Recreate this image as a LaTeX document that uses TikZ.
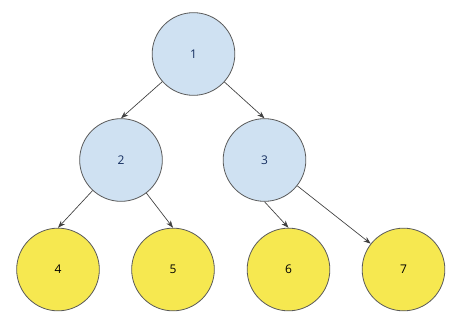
\documentclass[tikz,border=0pt]{standalone}
\usepackage{fontspec}
\setmainfont{Open Sans}
\usetikzlibrary{%
    arrows.meta,
    positioning,
    shapes.geometric
    }
\definecolor{treeblue}{RGB}{207,225,242}
\definecolor{treeyellow}{RGB}{246,232,80}
\definecolor{treegray}{RGB}{90,90,90}
\definecolor{treenavy}{RGB}{20,45,95}
\tikzset{
  inner3/.style={
    circle,
    minimum size=62pt,
    inner sep=0pt,
    draw=treegray,
    line width=0.6pt,
    font=\color{treenavy}\fontsize{9}{11}\selectfont,
    fill=treeblue,
  },
  leaf3/.style={
    circle,
    minimum size=62pt,
    inner sep=0pt,
    draw=treegray,
    line width=0.6pt,
    font=\color{black}\fontsize{9}{11}\selectfont,
    fill=treeyellow,
  },
  arrow3/.style={
    -{Stealth[length=5.5pt,width=4pt]},
    black!75,
    line width=0.5pt
  },
}

\begin{document}
\begin{tikzpicture}[x=0.75pt,y=-0.75pt]
\fill[white] (0,0) rectangle (459,324);
\useasboundingbox (0,0) rectangle (459,324);
\node[inner3]
  (one) at (193.5,54)
  {1};
\node[inner3]
  (two) at (121,160)
  {2};
\node[inner3]
  (three) at (264.5,160)
  {3};
\node[leaf3]
  (four) at (58,269.5)
  {4};
\node[leaf3]
  (five) at (173,269.5)
  {5};
\node[leaf3]
  (six) at (288.5,269.5)
  {6};
\node[leaf3]
  (seven) at (403.5,269.5)
  {7};

\begin{scope}[arrow3]
\draw
  (one) -- (two.north);
\draw
  (one) -- (three.north);
\draw
  (two) -- (four.north);
\draw
  (two) -- (five.north);
\draw
  (three.south) -- (six.north);
\draw
  (three) -- (seven);
\end{scope}
\end{tikzpicture}
\end{document}
